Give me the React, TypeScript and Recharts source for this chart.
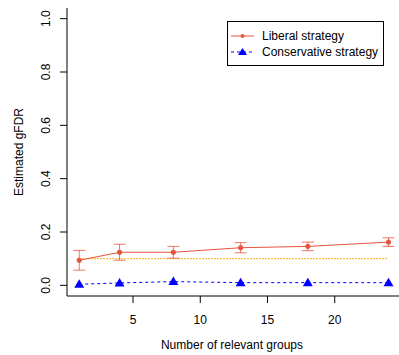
import { ComposedChart, Line, XAxis, YAxis, ErrorBar, Label } from "recharts";

const groups = [1, 4, 8, 13, 18, 24];
const liberal = [0.094, 0.124, 0.124, 0.141, 0.146, 0.162];
const liberalErr = [0.037, 0.03, 0.022, 0.019, 0.016, 0.016];
const conservative = [0.004, 0.009, 0.014, 0.01, 0.01, 0.01];
const target = [0.1, 0.1, 0.1, 0.1, 0.1, 0.1];
const xTicks = [5, 10, 15, 20];
const yTicks = [0, 0.2, 0.4, 0.6, 0.8, 1];

const RED = "#E8553E";
const BLUE = "#0000FF";
const FONT = "'Liberation Sans', Arial, sans-serif";

const data = groups.map((g, i) => ({
  g,
  liberal: liberal[i],
  err: liberalErr[i],
  conservative: conservative[i],
  target: target[i],
}));

const Triangle = (props: any) => {
  const { cx, cy } = props;
  if (cx == null || cy == null) return null;
  return <polygon points={`${cx - 5},${cy + 3.5} ${cx + 5},${cy + 3.5} ${cx},${cy - 5}`} fill={BLUE} />;
};

const YTick = (props: any) => {
  const { x, y, payload } = props;
  return (
    <text x={x - 8} y={y} transform={`rotate(-90 ${x - 8} ${y})`} textAnchor="middle" fontSize={12} fontFamily={FONT} fill="#000">
      {payload.value.toFixed(1)}
    </text>
  );
};

const XTick = (props: any) => {
  const { x, y, payload } = props;
  return (
    <text x={x} y={y + 19} textAnchor="middle" fontSize={12} fontFamily={FONT} fill="#000">
      {payload.value}
    </text>
  );
};

const LegendBox = () => (
  <div style={{ position: "absolute", left: 227, top: 21, border: "1px solid #000", width: 157, height: 45, boxSizing: "border-box", background: "#fff" }}>
    <svg width={155} height={43} style={{ display: "block" }}>
      <line x1={3} x2={26} y1={14} y2={14} stroke={RED} strokeWidth={1} />
      <circle cx={14.5} cy={14} r={2} fill={RED} />
      <text x={34} y={18} fontSize={12} fontFamily={FONT}>Liberal strategy</text>
      <line x1={3} x2={26} y1={30} y2={30} stroke={BLUE} strokeWidth={1} strokeDasharray="3 3" />
      <polygon points="10,33 19,33 14.5,26" fill={BLUE} />
      <text x={34} y={34} fontSize={12} fontFamily={FONT}>Conservative strategy</text>
    </svg>
  </div>
);

export default function App() {
  return (
    <div style={{ position: "absolute", left: 0, top: 0, width: 399, height: 355, background: "#fff" }}>
      <ComposedChart width={399} height={355} data={data} margin={{ top: 8, right: 0, left: 0, bottom: 0 }}>
        <XAxis
          xAxisId="top"
          orientation="top"
          dataKey="g"
          type="number"
          domain={[0.09, 24.78]}
          allowDataOverflow
          height={0}
          tick={false}
          tickLine={false}
          axisLine={{ stroke: "#000" }}
        />
        <XAxis
          dataKey="g"
          type="number"
          domain={[0.09, 24.78]}
          allowDataOverflow
          ticks={xTicks}
          tick={<XTick />}
          tickSize={7}
          tickLine={{ stroke: "#000" }}
          axisLine={{ stroke: "#000" }}
          height={59}
        >
          <Label
            content={() => (
              <text x={232} y={349} textAnchor="middle" fontSize={12} fontFamily={FONT}>
                Number of relevant groups
              </text>
            )}
          />
        </XAxis>
        <YAxis
          type="number"
          domain={[-0.04, 1.04]}
          allowDataOverflow
          ticks={yTicks}
          tick={<YTick />}
          tickSize={7}
          tickLine={{ stroke: "#000" }}
          axisLine={{ stroke: "#000" }}
          width={67}
        >
          <Label
            content={() => (
              <text x={23} y={152} transform="rotate(-90 23 152)" textAnchor="middle" fontSize={12} fontFamily={FONT}>
                Estimated gFDR
              </text>
            )}
          />
        </YAxis>
        <Line
          dataKey="target"
          stroke="#FFA500"
          strokeWidth={1.2}
          strokeDasharray="1.5 1.5"
          dot={false}
          activeDot={false}
          isAnimationActive={false}
        />
        <Line
          dataKey="conservative"
          stroke={BLUE}
          strokeWidth={1}
          strokeDasharray="3 3"
          dot={<Triangle />}
          activeDot={false}
          isAnimationActive={false}
        />
        <Line
          dataKey="liberal"
          stroke={RED}
          strokeWidth={1}
          dot={{ r: 2.2, fill: RED, stroke: RED, strokeWidth: 1 }}
          activeDot={false}
          isAnimationActive={false}
        >
          <ErrorBar dataKey="err" direction="y" width={6} stroke={RED} strokeOpacity={0.8} strokeWidth={1} />
        </Line>
      </ComposedChart>
      <LegendBox />
    </div>
  );
}
